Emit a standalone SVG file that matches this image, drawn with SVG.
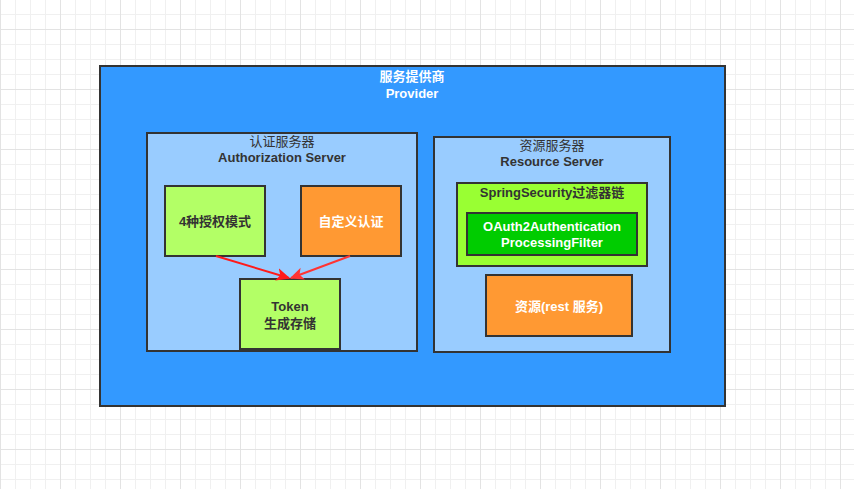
<svg xmlns="http://www.w3.org/2000/svg" width="854" height="489" viewBox="0 0 854 489">
<defs>
<pattern id="minor" x="0" y="14" width="15" height="15" patternUnits="userSpaceOnUse">
<path d="M0.5 0V15M0 0.5H15" stroke="#f0f0f0" stroke-width="1" fill="none"/>
</pattern>
<pattern id="major" x="0" y="29" width="60" height="60" patternUnits="userSpaceOnUse">
<path d="M0.5 0V60M0 0.5H60" stroke="#e3e3e3" stroke-width="1" fill="none"/>
</pattern>
<marker id="arrA" viewBox="0 0 10 10" refX="9" refY="5" markerWidth="14" markerHeight="14" markerUnits="userSpaceOnUse" orient="auto">
<path d="M0 0.5L10 5L0 9.5L2.5 5Z" fill="#ff1a1a"/>
</marker>
<marker id="arrB" viewBox="0 0 10 10" refX="9" refY="5" markerWidth="14" markerHeight="14" markerUnits="userSpaceOnUse" orient="auto">
<path d="M0 0.5L10 5L0 9.5L2.5 5Z" fill="#ff3333"/>
</marker>
</defs>
<style>
.box{stroke:#333333;stroke-width:2}
.t{font-family:"Liberation Sans","Noto Sans CJK SC",sans-serif;font-size:13px;text-anchor:middle;dominant-baseline:central}
.b{font-weight:bold}
.w{fill:#ffffff}
.d{fill:#333333}
</style>
<rect width="854" height="489" fill="#ffffff"/>
<rect width="854" height="489" fill="url(#minor)"/>
<rect width="854" height="489" fill="url(#major)"/>

<g id="provider">
<rect class="box" x="100" y="66" width="625" height="340" fill="#3399ff"/>
<text class="t b w" x="412" y="76">服务提供商</text>
<text class="t b w" x="412" y="93">Provider</text>
</g>

<g id="auth-server">
<rect class="box" x="147" y="133" width="270" height="218" fill="#99ccff"/>
<text class="t d" x="282" y="141">认证服务器</text>
<text class="t b d" x="282" y="157">Authorization Server</text>
</g>

<g id="grant-modes">
<rect class="box" x="165" y="186" width="100" height="70" fill="#b3ff66"/>
<text class="t b d" x="215" y="221">4种授权模式</text>
</g>

<g id="custom-auth">
<rect class="box" x="301" y="186" width="100" height="70" fill="#ff9933"/>
<text class="t b w" x="351" y="221">自定义认证</text>
</g>

<g id="token">
<rect class="box" x="240" y="279" width="100" height="70" fill="#b3ff66"/>
<text class="t b d" x="290" y="306">Token</text>
<text class="t b d" x="290" y="323">生成存储</text>
</g>

<g id="resource-server">
<rect class="box" x="434" y="137" width="236" height="215" fill="#99ccff"/>
<text class="t d" x="552" y="145">资源服务器</text>
<text class="t b d" x="552" y="161">Resource Server</text>
</g>

<g id="filter-chain">
<rect class="box" x="457" y="183" width="190" height="83" fill="#99ff33"/>
<text class="t b d" x="552" y="192">SpringSecurity过滤器链</text>
</g>

<g id="oauth2-filter">
<rect class="box" x="467" y="213" width="170" height="42" fill="#00cc00"/>
<text class="t b w" x="552" y="226">OAuth2Authentication</text>
<text class="t b w" x="552" y="242">ProcessingFilter</text>
</g>

<g id="rest-resource">
<rect class="box" x="486" y="275" width="146" height="61" fill="#ff9933"/>
<text class="t b w" x="559" y="306">资源(rest 服务)</text>
</g>

<g id="connectors" fill="none" stroke-width="2">
<path d="M216 256L289 278" stroke="#ff1a1a" marker-end="url(#arrA)"/>
<path d="M350 256L291 278" stroke="#ff3333" marker-end="url(#arrB)"/>
</g>
</svg>
